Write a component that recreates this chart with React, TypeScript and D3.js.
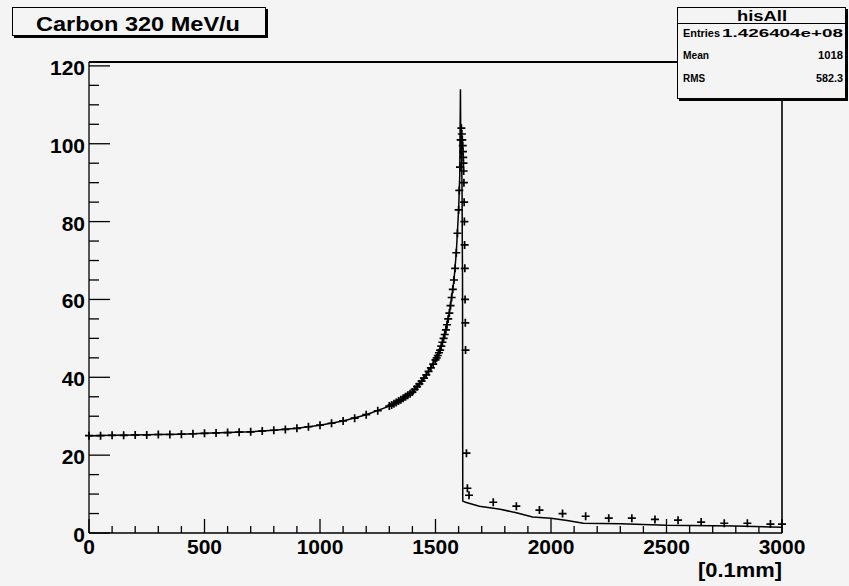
import React, { useEffect, useRef } from 'react';
import * as d3 from 'd3';

// histogram line (depth in 0.1mm, dose)
const lineX = [0, 100, 200, 300, 400, 500, 600, 700, 800, 900, 1000, 1100, 1200, 1300, 1350, 1400, 1450, 1500, 1530, 1560, 1580, 1590, 1600, 1605, 1608, 1609, 1611, 1613, 1615, 1616, 1617, 1618, 1630, 1690, 1780, 1850, 1920, 2000, 2070, 2140, 2300, 2500, 2800, 3000];
const lineY = [25.0, 25.1, 25.2, 25.3, 25.4, 25.6, 25.8, 26.0, 26.4, 26.9, 27.7, 28.8, 30.4, 32.6, 34.2, 36.2, 39.8, 44.5, 49.0, 56.5, 65.0, 72.0, 83.0, 92.0, 114.0, 104.0, 100.0, 96.0, 88.0, 75.0, 65.0, 8.2, 7.9, 6.9, 6.1, 5.2, 4.1, 3.8, 3.2, 2.5, 2.4, 2.0, 1.8, 1.5];

// measured points ("+" markers)
const markerX = [0, 50, 100, 150, 200, 250, 300, 350, 400, 450, 500, 550, 600, 650, 700, 750, 800, 850, 900, 950, 1000, 1050, 1100, 1150, 1200, 1250, 1300, 1310, 1320, 1330, 1340, 1350, 1360, 1370, 1380, 1390, 1400, 1410, 1420, 1430, 1440, 1450, 1460, 1470, 1480, 1490, 1500, 1505, 1510, 1515, 1520, 1525, 1530, 1535, 1540, 1545, 1550, 1555, 1560, 1565, 1570, 1575, 1580, 1585, 1590, 1595, 1600, 1603, 1606, 1609, 1612, 1614, 1616, 1618, 1619, 1620, 1621, 1622, 1623, 1624, 1625, 1626, 1627, 1628, 1629, 1630, 1634, 1638, 1645, 1750, 1850, 1950, 2050, 2150, 2250, 2350, 2450, 2550, 2650, 2750, 2850, 2950, 3000];
const markerY = [25.0, 25.0, 25.1, 25.1, 25.2, 25.2, 25.3, 25.3, 25.4, 25.5, 25.6, 25.7, 25.8, 25.9, 26.0, 26.2, 26.4, 26.6, 26.9, 27.3, 27.7, 28.2, 28.8, 29.5, 30.4, 31.4, 32.6, 32.9, 33.2, 33.5, 33.9, 34.2, 34.6, 35.0, 35.4, 35.8, 36.2, 36.9, 37.6, 38.3, 39.0, 39.8, 40.6, 41.5, 42.4, 43.4, 44.5, 45.0, 45.6, 46.3, 47.0, 48.0, 49.0, 50.0, 51.0, 52.2, 53.5, 55.0, 56.5, 58.4, 60.5, 62.6, 65.0, 68.0, 72.0, 77.0, 83.0, 88.0, 94.0, 101.0, 104.0, 102.5, 101.0, 99.5, 98.0, 96.5, 95.0, 93.0, 90.0, 85.0, 80.0, 74.0, 68.0, 60.0, 54.0, 47.0, 20.5, 11.5, 9.7, 7.9, 6.9, 5.9, 5.0, 4.3, 3.8, 3.8, 3.5, 3.3, 2.8, 2.5, 2.5, 2.3, 2.3];

const xMajorTicks = [0, 500, 1000, 1500, 2000, 2500, 3000];
const xTickLabels = ['0', '500', '1000', '1500', '2000', '2500', '3000'];
const yMajorTicks = [0, 20, 40, 60, 80, 100, 120];
const yTickLabels = ['0', '20', '40', '60', '80', '100', '120'];

const statNames = ['Entries', 'Mean', 'RMS'];
const statValues = ['1.426404e+08', '1018', '582.3'];

const App: React.FC = () => {
  const svgRef = useRef<SVGSVGElement>(null);

  useEffect(() => {
    if (!svgRef.current) return;
    const svg = d3.select(svgRef.current);
    svg.selectAll('*').remove();

    const bg = '#f4f4f4';
    const font = "'Liberation Sans', Arial, Helvetica, sans-serif";

    const x = d3.scaleLinear().domain([0, 3000]).range([89, 782]);
    const y = d3.scaleLinear().domain([0, 121]).range([533, 62]);

    svg.append('rect').attr('width', 849).attr('height', 586).attr('fill', bg);

    // frame
    const frame = svg.append('g').attr('stroke', '#000');
    frame.append('line').attr('x1', 89).attr('x2', 782).attr('y1', 62).attr('y2', 62).attr('stroke-width', 2);
    frame.append('line').attr('x1', 89).attr('x2', 89).attr('y1', 62).attr('y2', 533).attr('stroke-width', 1.3);
    frame.append('line').attr('x1', 89).attr('x2', 782).attr('y1', 533).attr('y2', 533).attr('stroke-width', 1.6);
    frame.append('line').attr('x1', 782).attr('x2', 782).attr('y1', 62).attr('y2', 533).attr('stroke-width', 1.6);

    // ticks (inward, ROOT style)
    const ticks = svg.append('g').attr('stroke', '#000').attr('stroke-width', 1.3);
    d3.range(0, 3001, 100).forEach(v => {
      const len = v % 500 === 0 ? 14 : 7;
      ticks.append('line').attr('x1', x(v)).attr('x2', x(v)).attr('y1', 533).attr('y2', 533 - len);
    });
    d3.range(0, 121, 5).forEach(v => {
      const len = v % 20 === 0 ? 21 : 10;
      ticks.append('line').attr('x1', 89).attr('x2', 89 + len).attr('y1', y(v)).attr('y2', y(v));
    });

    // tick labels
    svg.append('g').selectAll('text').data(xMajorTicks).enter().append('text')
      .attr('x', d => x(d)).attr('y', 554)
      .attr('text-anchor', 'middle')
      .style('font-family', font).style('font-weight', 'bold').style('font-size', '21px')
      .text((d, i) => xTickLabels[i]);

    svg.append('g').selectAll('text').data(yMajorTicks).enter().append('text')
      .attr('x', 85).attr('y', d => y(d) + 9)
      .attr('text-anchor', 'end')
      .style('font-family', font).style('font-weight', 'bold').style('font-size', '21px')
      .text((d, i) => yTickLabels[i]);

    svg.append('text').attr('x', 698).attr('y', 577)
      .attr('textLength', 84).attr('lengthAdjust', 'spacingAndGlyphs')
      .style('font-family', font).style('font-weight', 'bold').style('font-size', '20px')
      .text('[0.1mm]');

    // histogram line
    const line = d3.line<number>().x((d, i) => x(lineX[i])).y(d => y(d));
    svg.append('path').datum(lineY).attr('d', line)
      .attr('fill', 'none').attr('stroke', '#000').attr('stroke-width', 1.5);

    // markers
    const m = 4;
    svg.append('g').selectAll('path').data(markerY).enter().append('path')
      .attr('d', (d, i) => {
        const px = x(markerX[i]);
        const py = y(d);
        return `M${px - m},${py}H${px + m}M${px},${py - m}V${py + m}`;
      })
      .attr('stroke', '#000').attr('stroke-width', 1.7).attr('fill', 'none');

    // title box
    svg.append('rect').attr('x', 14).attr('y', 9).attr('width', 254).attr('height', 29).attr('fill', '#000');
    svg.append('rect').attr('x', 12.5).attr('y', 7.5).attr('width', 253).attr('height', 28)
      .attr('fill', bg).attr('stroke', '#000').attr('stroke-width', 1);
    svg.append('text').attr('x', 36).attr('y', 31)
      .attr('textLength', 204).attr('lengthAdjust', 'spacingAndGlyphs')
      .style('font-family', font).style('font-weight', 'bold').style('font-size', '21px')
      .text('Carbon 320 MeV/u');

    // stats box
    svg.append('rect').attr('x', 679).attr('y', 9).attr('width', 169).attr('height', 92).attr('fill', '#000');
    svg.append('rect').attr('x', 677.5).attr('y', 7.5).attr('width', 168).attr('height', 91)
      .attr('fill', bg).attr('stroke', '#000').attr('stroke-width', 1);
    svg.append('line').attr('x1', 677.5).attr('x2', 845.5).attr('y1', 23.5).attr('y2', 23.5)
      .attr('stroke', '#000').attr('stroke-width', 1);
    svg.append('text').attr('x', 762).attr('y', 21).attr('text-anchor', 'middle')
      .attr('textLength', 50).attr('lengthAdjust', 'spacingAndGlyphs')
      .style('font-family', font).style('font-weight', 'bold').style('font-size', '14px')
      .text('hisAll');
    const rowY = [37, 59, 82];
    const nameW = [37, 26, 22];
    const valW = [121, 25, 27];
    statNames.forEach((n, i) => {
      svg.append('text').attr('x', 683).attr('y', rowY[i])
        .attr('textLength', nameW[i]).attr('lengthAdjust', 'spacingAndGlyphs')
        .style('font-family', font).style('font-weight', 'bold').style('font-size', '11px')
        .text(n);
      svg.append('text').attr('x', 843).attr('y', rowY[i]).attr('text-anchor', 'end')
        .attr('textLength', valW[i]).attr('lengthAdjust', 'spacingAndGlyphs')
        .style('font-family', font).style('font-weight', 'bold').style('font-size', '11px')
        .text(statValues[i]);
    });
  }, []);

  return (
    <div style={{ position: 'absolute', left: 0, top: 0 }}>
      <svg ref={svgRef} width={849} height={586} />
    </div>
  );
};

export default App;
